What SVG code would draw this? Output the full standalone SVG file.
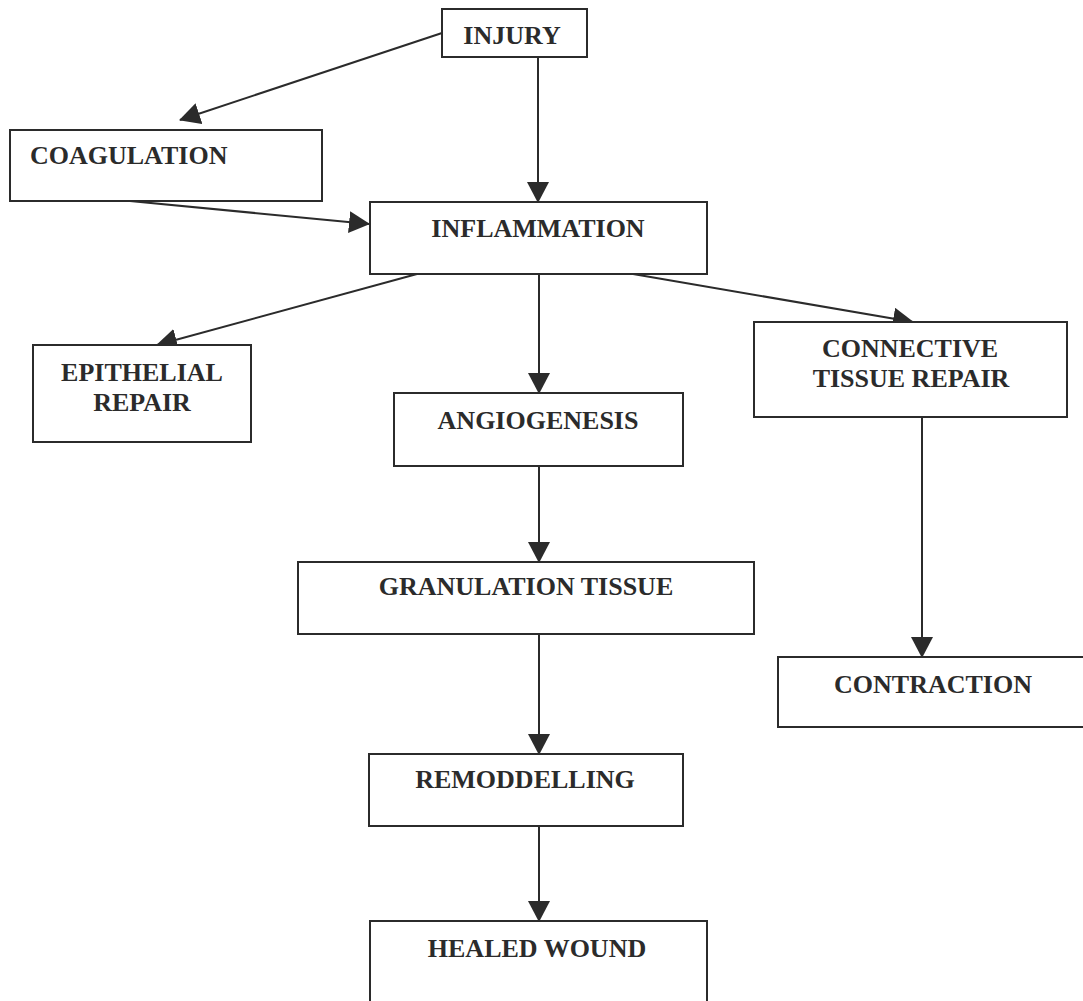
<svg xmlns="http://www.w3.org/2000/svg" width="1083" height="1001" viewBox="0 0 1083 1001">
<style>
.box{fill:#fff;stroke:#2b2b2b;stroke-width:2}
.lbl{font-family:"Liberation Serif","Times New Roman",serif;font-weight:bold;font-size:26px;fill:#2b2b2b}
.c{text-anchor:middle}
.edge{stroke:#2b2b2b;stroke-width:2;fill:none;marker-end:url(#ah)}
</style>
<defs>
<marker id="ah" markerUnits="userSpaceOnUse" markerWidth="21" markerHeight="22" viewBox="0 0 21 22" refX="20" refY="11" orient="auto">
<path d="M0,0 L21,11 L0,22 z" fill="#2b2b2b"/>
</marker>
</defs>
<rect width="1083" height="1001" fill="#fff"/>
<g id="connectors">
<line class="edge" x1="442" y1="33" x2="180" y2="120"/>
<line class="edge" x1="538" y1="57" x2="538" y2="202"/>
<line class="edge" x1="130" y1="201" x2="369" y2="224"/>
<line class="edge" x1="417" y1="274" x2="157" y2="345"/>
<line class="edge" x1="539" y1="274" x2="539" y2="393"/>
<line class="edge" x1="633" y1="274" x2="913" y2="322"/>
<line class="edge" x1="539" y1="466" x2="539" y2="562"/>
<line class="edge" x1="539" y1="634" x2="539" y2="754"/>
<line class="edge" x1="539" y1="826" x2="539" y2="921"/>
<line class="edge" x1="922" y1="417" x2="922" y2="657"/>
</g>
<g id="injury"><rect class="box" x="442" y="9" width="145" height="48"/><text class="lbl c" x="512" y="44">INJURY</text></g>
<g id="coagulation"><rect class="box" x="10" y="130" width="312" height="71"/><text class="lbl" x="30" y="164">COAGULATION</text></g>
<g id="inflammation"><rect class="box" x="370" y="202" width="337" height="72"/><text class="lbl c" x="538" y="237">INFLAMMATION</text></g>
<g id="epithelial"><rect class="box" x="33" y="345" width="218" height="97"/><text class="lbl c" x="142" y="381">EPITHELIAL</text><text class="lbl c" x="142" y="411">REPAIR</text></g>
<g id="angiogenesis"><rect class="box" x="394" y="393" width="289" height="73"/><text class="lbl c" x="538" y="429">ANGIOGENESIS</text></g>
<g id="connective"><rect class="box" x="754" y="322" width="313" height="95"/><text class="lbl c" x="910" y="357">CONNECTIVE</text><text class="lbl c" x="911" y="387">TISSUE REPAIR</text></g>
<g id="granulation"><rect class="box" x="298" y="562" width="456" height="72"/><text class="lbl c" x="526" y="595">GRANULATION TISSUE</text></g>
<g id="contraction"><rect class="box" x="778" y="657" width="310" height="70"/><text class="lbl c" x="933" y="693">CONTRACTION</text></g>
<g id="remodelling"><rect class="box" x="369" y="754" width="314" height="72"/><text class="lbl c" x="525" y="788">REMODDELLING</text></g>
<g id="healed"><rect class="box" x="370" y="921" width="337" height="100"/><text class="lbl c" x="537" y="957">HEALED WOUND</text></g>
</svg>
